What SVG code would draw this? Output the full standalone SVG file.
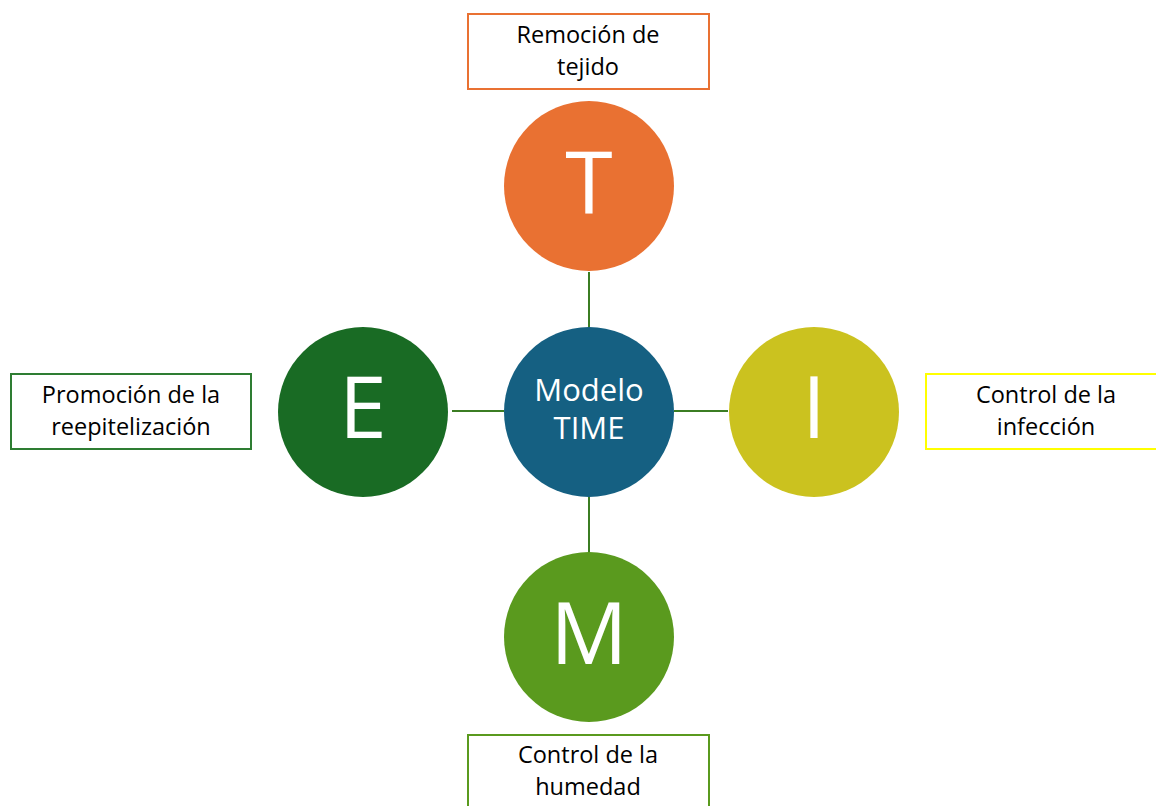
<svg xmlns="http://www.w3.org/2000/svg" width="1156" height="806" viewBox="0 0 1156 806">
<style>
.lbl{font-family:"Open Sans","Liberation Sans",sans-serif;font-size:23.5px;fill:#000;text-anchor:middle}
.big{font-family:"Open Sans","Liberation Sans",sans-serif;font-size:86px;fill:#fff;text-anchor:middle}
.ctr{font-family:"Open Sans","Liberation Sans",sans-serif;font-size:31px;fill:#fff;text-anchor:middle}
.box{fill:#fff;stroke-width:2}
.conn{stroke:#3B7D23;stroke-width:2;fill:none}
</style>
<rect width="1156" height="806" fill="#fff"/>
<g id="connectors">
<line class="conn" x1="589" y1="272" x2="589" y2="327"/>
<line class="conn" x1="589" y1="497" x2="589" y2="552"/>
<line class="conn" x1="452" y1="411" x2="504" y2="411"/>
<line class="conn" x1="674" y1="411" x2="728" y2="411"/>
</g>
<g id="center">
<circle cx="589" cy="412" r="85" fill="#156082"/>
<text class="ctr" x="589" y="401">Modelo</text>
<text class="ctr" x="589" y="439">TIME</text>
</g>
<g id="T">
<circle cx="589" cy="186" r="85" fill="#E97132"/>
<text class="big" x="589" y="213">T</text>
</g>
<g id="E">
<circle cx="363" cy="412" r="85" fill="#196B24"/>
<text class="big" x="363" y="438">E</text>
</g>
<g id="I">
<circle cx="814" cy="412" r="85" fill="#CBC21F"/>
<text class="big" x="814" y="438">I</text>
</g>
<g id="M">
<circle cx="589" cy="637" r="85" fill="#5A9A1E"/>
<text class="big" x="589" y="664">M</text>
</g>
<g id="label-T">
<rect class="box" x="468" y="14" width="241" height="75" stroke="#E97132"/>
<text class="lbl" x="588" y="43">Remoción de</text>
<text class="lbl" x="588" y="75">tejido</text>
</g>
<g id="label-E">
<rect class="box" x="11" y="374" width="240" height="75" stroke="#2E7D32"/>
<text class="lbl" x="131" y="403">Promoción de la</text>
<text class="lbl" x="131" y="435">reepitelización</text>
</g>
<g id="label-I">
<rect class="box" x="926" y="374" width="241" height="75" stroke="#FFFF00"/>
<text class="lbl" x="1046" y="403">Control de la</text>
<text class="lbl" x="1046" y="435">infección</text>
</g>
<g id="label-M">
<rect class="box" x="468" y="735" width="241" height="76" stroke="#5A9A1E"/>
<text class="lbl" x="588" y="763">Control de la</text>
<text class="lbl" x="588" y="795">humedad</text>
</g>
</svg>
